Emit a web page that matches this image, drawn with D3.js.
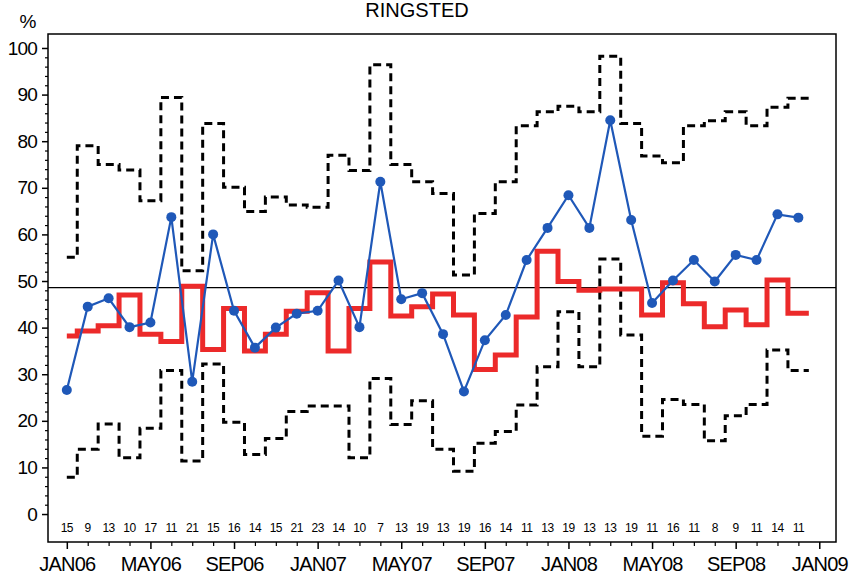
<!DOCTYPE html>
<html>
<head>
<meta charset="utf-8">
<script src="https://cdn.jsdelivr.net/npm/d3@7"></script>
<style>
  body { margin: 0; background: #fff; }
  svg { display: block; font-family: "Liberation Sans", Arial, sans-serif; }
</style>
</head>
<body>
<svg id="chart" width="850" height="576"></svg>
<script>
// ---- data (month index 0 = JAN06 ... 35 = DEC08) ----
const months = d3.range(36);
const observed = [26.6, 44.5, 46.3, 40.1, 41.1, 63.7, 28.4, 60.0, 43.6, 35.7, 40.0, 43.0,
                  43.6, 50.1, 40.1, 71.3, 46.1, 47.4, 38.6, 26.3, 37.3, 42.7, 54.5, 61.4,
                  68.4, 61.4, 84.5, 63.1, 45.3, 50.1, 54.5, 49.9, 55.6, 54.5, 64.3, 63.6];
const expected = [38.2, 39.3, 40.4, 47.0, 38.6, 37.0, 48.9, 35.3, 44.1, 35.0, 38.6, 43.5,
                  47.5, 35.0, 44.1, 54.1, 42.5, 44.5, 47.2, 42.7, 31.0, 34.1, 42.3, 56.4,
                  49.9, 48.0, 48.3, 48.3, 42.7, 49.6, 45.1, 40.2, 43.8, 40.6, 50.2, 43.1];
const upperLimit = [55.1, 79.0, 75.0, 73.8, 67.2, 89.4, 52.2, 83.8, 70.1, 64.9, 68.0, 66.3,
                    65.8, 77.0, 73.7, 96.4, 75.0, 71.3, 68.8, 51.3, 64.5, 71.3, 83.3, 86.3,
                    87.5, 86.3, 98.2, 83.8, 76.8, 75.4, 83.3, 84.4, 86.3, 83.3, 87.3, 89.2];
const lowerLimit = [7.9, 13.9, 19.3, 12.1, 18.4, 30.8, 11.4, 32.2, 19.7, 12.8, 16.2, 22.0,
                    23.2, 23.2, 12.1, 29.1, 19.2, 24.3, 13.9, 9.2, 15.2, 17.7, 23.4, 31.6,
                    43.4, 31.6, 54.7, 38.4, 16.7, 24.6, 23.5, 15.7, 21.1, 23.5, 35.2, 30.8];
const counts = [15, 9, 13, 10, 17, 11, 21, 15, 16, 14, 15, 21, 23, 14, 10, 7, 13, 19, 13, 19, 16, 14, 11, 13,
                19, 13, 13, 19, 11, 16, 11, 8, 9, 11, 14, 11];
const centerValue = 48.6;
const xTickValues = [0, 4, 8, 12, 16, 20, 24, 28, 32, 36];
const xTickLabels = ["JAN06", "MAY06", "SEP06", "JAN07", "MAY07", "SEP07", "JAN08", "MAY08", "SEP08", "JAN09"];
const yTickValues = [0, 10, 20, 30, 40, 50, 60, 70, 80, 90, 100];
const title = "RINGSTED";
const yUnit = "%";

// ---- layout ----
const svg = d3.select("#chart");
const L = 48, R = 836, T = 34, B = 542;
const x = d3.scaleLinear().domain([-0.9, 36.8]).range([L, R]);
const y = d3.scaleLinear().domain([-6, 103]).range([B, T]);

// frame
svg.append("rect").attr("x", L).attr("y", T).attr("width", R - L).attr("height", B - T)
  .attr("fill", "none").attr("stroke", "#000").attr("stroke-width", 1.5);

// title and unit
svg.append("text").attr("x", 417).attr("y", 17).attr("text-anchor", "middle")
  .attr("font-size", 20).text(title);
svg.append("text").attr("x", 28).attr("y", 28).attr("text-anchor", "middle")
  .attr("font-size", 19).text(yUnit);

// y axis: minor ticks
const yMinor = d3.range(0, 101, 2).filter(v => v % 10 !== 0);
svg.append("g").attr("transform", `translate(${L},0)`)
  .call(d3.axisLeft(y).tickValues(yMinor).tickSize(3).tickFormat(""))
  .call(g => g.select(".domain").remove())
  .call(g => g.selectAll("line").attr("stroke-width", 1.2));
// y axis: major
svg.append("g").attr("transform", `translate(${L},0)`)
  .call(d3.axisLeft(y).tickValues(yTickValues).tickSize(6).tickPadding(5).tickFormat(d3.format("d")))
  .call(g => g.select(".domain").remove())
  .call(g => g.selectAll("line").attr("stroke-width", 1.5))
  .call(g => g.selectAll("text").attr("font-size", 19).attr("letter-spacing", "-0.8")
        .attr("font-family", "Liberation Sans, Arial, sans-serif").attr("fill", "#000"));

// x axis: minor ticks (every month)
svg.append("g").attr("transform", `translate(0,${B})`)
  .call(d3.axisBottom(x).tickValues(d3.range(0, 37).filter(m => m % 4 !== 0)).tickSize(4).tickFormat(""))
  .call(g => g.select(".domain").remove())
  .call(g => g.selectAll("line").attr("stroke-width", 1.2));
// x axis: major
svg.append("g").attr("transform", `translate(0,${B})`)
  .call(d3.axisBottom(x).tickValues(xTickValues).tickSize(7).tickPadding(8)
        .tickFormat((d, i) => xTickLabels[i]))
  .call(g => g.select(".domain").remove())
  .call(g => g.selectAll("line").attr("stroke-width", 1.5))
  .call(g => g.selectAll("text").attr("font-size", 20).attr("letter-spacing", "-0.8")
        .attr("font-family", "Liberation Sans, Arial, sans-serif").attr("fill", "#000"));

// counts row
svg.append("g").selectAll("text").data(counts).join("text")
  .attr("x", (d, i) => x(months[i])).attr("y", 532)
  .attr("text-anchor", "middle").attr("font-size", 12).attr("letter-spacing", "-0.5")
  .text(d => d);

// step helper: segment i spans [max(i-0.5,0), i+0.5]
function stepPoints(vals) {
  const pts = [];
  vals.forEach((v, i) => {
    pts.push([Math.max(i - 0.5, 0), v]);
    pts.push([i + 0.5, v]);
  });
  return pts;
}
const stepLine = d3.line().x(d => x(d[0])).y(d => y(d[1]));

// control limits
[upperLimit, lowerLimit].forEach(vals => {
  svg.append("path").attr("d", stepLine(stepPoints(vals)))
    .attr("fill", "none").attr("stroke", "#000").attr("stroke-width", 3)
    .attr("stroke-dasharray", "8,5");
});

// center line
svg.append("line").attr("x1", L).attr("x2", R)
  .attr("y1", y(centerValue)).attr("y2", y(centerValue))
  .attr("stroke", "#000").attr("stroke-width", 1.2);

// expected (red step)
svg.append("path").attr("d", stepLine(stepPoints(expected)))
  .attr("fill", "none").attr("stroke", "#ec2a2a").attr("stroke-width", 5)
  .attr("stroke-linejoin", "miter");

// observed (blue line + markers)
const line = d3.line().x((d, i) => x(months[i])).y(d => y(d));
svg.append("path").attr("d", line(observed))
  .attr("fill", "none").attr("stroke", "#1f58b8").attr("stroke-width", 2.2);
svg.append("g").selectAll("circle").data(observed).join("circle")
  .attr("cx", (d, i) => x(months[i])).attr("cy", d => y(d)).attr("r", 5)
  .attr("fill", "#1f58b8");
</script>
</body>
</html>
